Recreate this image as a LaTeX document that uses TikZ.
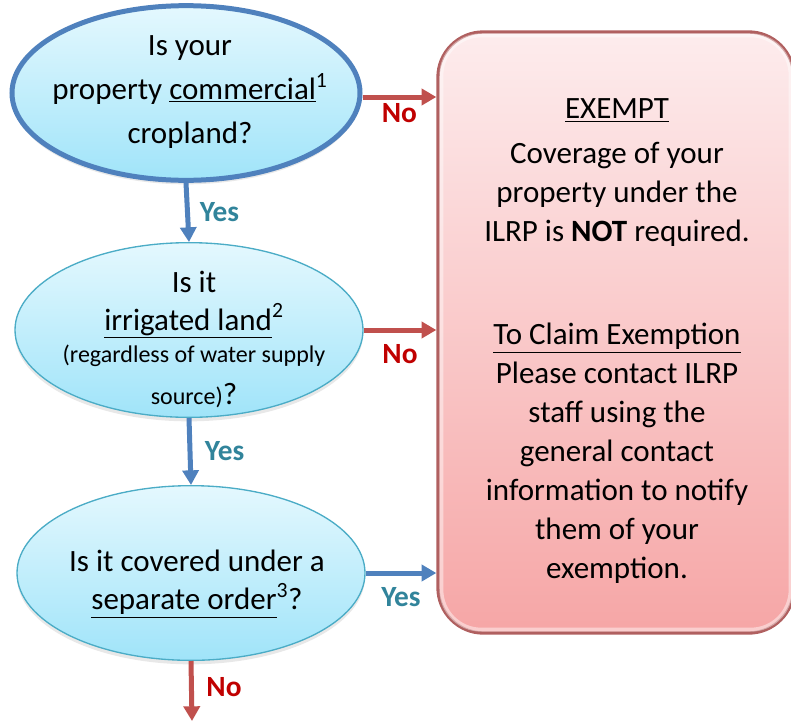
\documentclass[tikz,border=0pt]{standalone}
\usepackage{fontspec}
\setmainfont{Carlito}
\usetikzlibrary{arrows.meta,shapes.geometric,shadows,fit}

\definecolor{qblue}{RGB}{79,129,189}
\definecolor{qteal}{RGB}{75,172,198}
\definecolor{qred}{RGB}{192,80,77}
\definecolor{yescol}{RGB}{49,132,155}
\definecolor{nocol}{RGB}{192,0,0}
\definecolor{qtop}{RGB}{228,248,254}
\definecolor{qbot}{RGB}{160,228,249}
\definecolor{boxtop}{RGB}{253,236,237}
\definecolor{boxbot}{RGB}{246,166,166}
\definecolor{boxline}{RGB}{176,96,96}

\begin{document}
\begin{tikzpicture}[x=0.75pt,y=-0.75pt,
  question/.style={ellipse,top color=qtop,bottom color=qbot,draw=qteal,line width=1pt,
    minimum width=261pt,minimum height=131pt,inner sep=0pt,
    drop shadow={opacity=0.18,shadow xshift=0pt,shadow yshift=-3pt}},
  qtext/.style={align=center,inner sep=0pt},
  yesarrow/.style={draw=qblue,line width=3.75pt,-{Triangle[length=11pt,width=12pt]}},
  noarrow/.style={draw=qred,line width=3.75pt,-{Triangle[length=11pt,width=12pt]}},
  yeslabel/.style={text=yescol,font=\fontsize{22}{26}\selectfont\bfseries},
  nolabel/.style={text=nocol,font=\fontsize{22}{26}\selectfont\bfseries}]
\useasboundingbox (0,0) rectangle (791,721);

% exemption box
\coordinate (bnw) at (438,32);
\coordinate (bse) at (794,633);
\node[fit=(bnw)(bse),inner sep=0pt,draw=boxline,line width=2.5pt,rounded corners=34pt,
  top color=boxtop,bottom color=boxbot] (box) {};
\draw[white,opacity=0.45,line width=3pt,rounded corners=30pt]
  ([shift={(5,5)}]box.north west) rectangle ([shift={(-5,-5)}]box.south east);
\node[qtext,font=\fontsize{23.25}{29.25}\selectfont] (boxt) at (617,341.5)
  {\underline{EXEMPT}\\[4.5pt]
   Coverage of your\\
   property under the\\
   ILRP is \textbf{NOT} required.\\[48pt]
   \underline{To Claim Exemption}\\
   Please contact ILRP\\
   staff using the\\
   general contact\\
   information to notify\\
   them of your\\
   exemption.};

% questions
\node[question,draw=qblue,line width=3.75pt] (q1) at (186,93) {};
\node[qtext,font=\fontsize{23.25}{33}\selectfont] (q1t) at (190,92)
  {Is your\\ property \underline{commercial}\textsuperscript{1}\\ cropland?};

\node[question] (q2) at (189,330) {};
\node[qtext,font=\fontsize{23.25}{28.5}\selectfont] (q2t) at (194,339)
  {Is it\\ \underline{irrigated land}\textsuperscript{2}\\[-4.5pt]
   {\fontsize{18}{28.5}\selectfont (regardless of water supply}\\[3pt]
   {\fontsize{18}{28.5}\selectfont source)}?};

\node[question] (q3) at (191,573) {};
\node[qtext,font=\fontsize{23.25}{28.5}\selectfont] (q3t) at (197,584)
  {Is it covered under a\\ \underline{separate order}\textsuperscript{3}?};

\coordinate (out) at (192,721);

\draw[yesarrow] (q1.south) -- (q2.north) node[yeslabel,midway,right=4pt] {Yes};
\draw[yesarrow] (q2.south) -- (q3.north) node[yeslabel,midway,right=6pt] {Yes};
\draw[noarrow] (q3.south) -- (out) node[nolabel,midway,right=6pt,yshift=3pt] {No};

\draw[noarrow] ([yshift=-3]q1.east) -- ([yshift=-3]q1.east -| box.west) node[nolabel,midway,below=0pt] {No};
\draw[noarrow] (q2.east) -- (q2.east -| box.west) node[nolabel,midway,below=6pt] {No};
\draw[yesarrow] (q3.east) -- (q3.east -| box.west) node[yeslabel,midway,below=6pt] {Yes};
\end{tikzpicture}
\end{document}
